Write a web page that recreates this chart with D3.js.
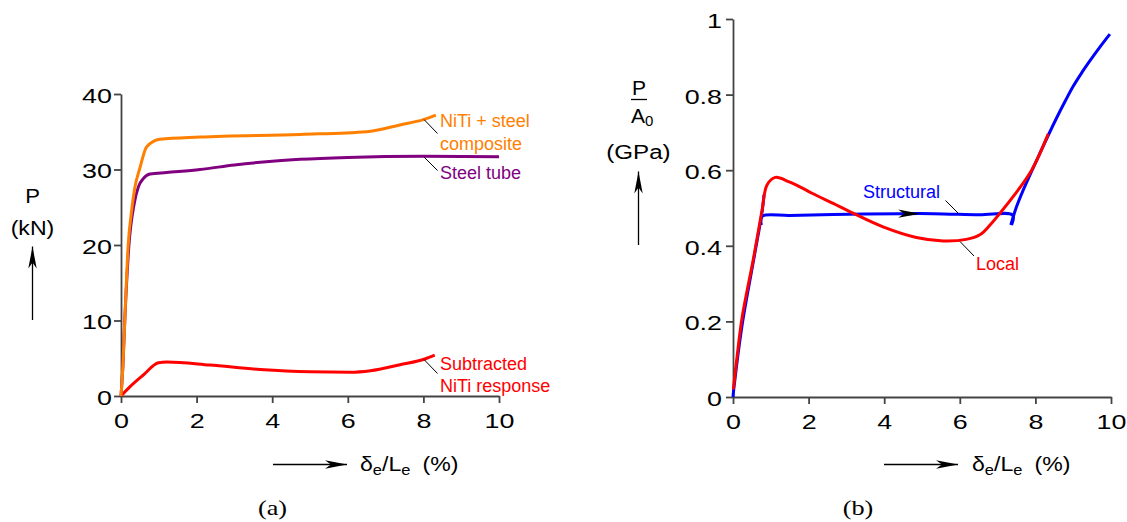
<!DOCTYPE html>
<html>
<head>
<meta charset="utf-8">
<script src="https://cdn.jsdelivr.net/npm/d3@7"></script>
<style>
  body { margin: 0; background: #fff; }
  svg { display: block; font-family: "Liberation Sans", Arial, sans-serif; }
  .axis text { font-size: 21px; fill: #000; }
  .axis path, .axis line { stroke: #444; stroke-width: 1.8; }
  .lbl { font-size: 18px; }
  .ttl { font-size: 21px; }
</style>
</head>
<body>
<svg width="1127" height="522"></svg>
<script>
// x ticks shared by both panels
const xTicks = [0, 2, 4, 6, 8, 10];
const yTicksA = [0, 10, 20, 30, 40];
const yTicksB = [0, 0.2, 0.4, 0.6, 0.8, 1];

// panel (a): P (kN) vs strain (%)
const composite = [[0,0],[0.05,4],[0.1,10],[0.19,20],[0.28,24.5],[0.37,27.7],[0.5,30.2],[0.68,33],[1.03,34],[2.09,34.3],[4.74,34.65],[6.5,35],[7.38,35.9],[8.0,36.6],[8.33,37.2]];
const steelTube = [[0,0],[0.05,4],[0.1,10],[0.21,20],[0.35,25.5],[0.46,27.7],[0.59,28.8],[0.77,29.4],[1.2,29.6],[2.09,30.0],[3,30.6],[4,31.1],[4.74,31.35],[6,31.6],[8,31.75],[10,31.7]];
const subtracted = [[0,0],[0.24,1.24],[0.59,2.78],[0.99,4.4],[1.21,4.5],[2.35,4.1],[3.68,3.5],[5.0,3.2],[6.06,3.15],[6.6,3.35],[7.38,4.15],[8.04,4.9],[8.3,5.4]];

// panel (b): P/A0 (GPa) vs strain (%)
const structRise = [[0,0],[0.02,0.02],[0.24,0.19],[0.55,0.365],[0.77,0.49],[0.82,0.535]];
const structPlateau = [[0.75,0.455],[0.77,0.478],[1.5,0.48],[2.65,0.483],[4.42,0.485],[5.3,0.485],[6.5,0.482],[7.4,0.481],[7.37,0.455]];
const structHarden = [[7.35,0.455],[7.5,0.503],[7.68,0.548],[8.12,0.645],[8.56,0.738],[8.8,0.785],[9.0,0.822],[9.22,0.857],[9.44,0.889],[9.7,0.925],[9.97,0.96]];
const local = [[0.01,0.02],[0.1,0.1],[0.24,0.21],[0.55,0.371],[0.77,0.495],[0.9,0.561],[1.12,0.581],[1.47,0.57],[1.77,0.556],[2.09,0.539],[2.65,0.512],[3.1,0.49],[3.97,0.45],[4.85,0.422],[5.56,0.413],[6.17,0.417],[6.53,0.429],[6.8,0.455],[7.06,0.486],[7.41,0.53],[7.9,0.6],[8.34,0.696]];

const svg = d3.select("svg");

// horizontally stretch a text element around x = ax
function stretch(sel, sx, ax) {
    sel.attr("transform", `translate(${ax},0) scale(${sx},1) translate(${-ax},0)`);
    return sel;
}

// arrow head with notched back, tip at (x,y)
function arrowHead(g, x, y, angle) {
    g.append("path")
        .attr("d", "M0,0 L-22,-4.2 L-16,0 L-22,4.2 Z")
        .attr("transform", `translate(${x},${y}) rotate(${angle})`)
        .attr("fill", "#000");
}

function arrow(g, x1, y1, x2, y2) {
    g.append("line")
        .attr("x1", x1).attr("y1", y1).attr("x2", x2).attr("y2", y2)
        .attr("stroke", "#000").attr("stroke-width", 1.3);
    arrowHead(g, x2, y2, Math.atan2(y2 - y1, x2 - x1) * 180 / Math.PI);
}

function leader(g, x1, y1, x2, y2) {
    g.append("line")
        .attr("x1", x1).attr("y1", y1).attr("x2", x2).attr("y2", y2)
        .attr("stroke", "#000").attr("stroke-width", 1);
}

function xLabel(g, ax, tx) {
    arrow(g, ax, 464.5, ax + 74, 464.5);
    const t = g.append("text").attr("class", "ttl").attr("x", tx).attr("y", 471);
    t.append("tspan").text("\u03b4");
    t.append("tspan").attr("dy", 4).style("font-size", "15px").text("e");
    t.append("tspan").attr("dy", -4).text("/L");
    t.append("tspan").attr("dy", 4).style("font-size", "15px").text("e");
    t.append("tspan").attr("dy", -4).attr("dx", 11).text("(%)");
    stretch(t, 1.1, tx);
}

function drawAxes(g, x, y, yTicks, fmt, pad) {
    const sx = 1.28;
    g.append("g")
        .attr("class", "axis")
        .attr("transform", `translate(0,${y.range()[0]})`)
        .call(d3.axisBottom(x).tickValues(xTicks).tickSize(7).tickSizeOuter(0).tickPadding(10))
        .selectAll("text").attr("transform", `scale(${sx},1)`);
    g.append("g")
        .attr("class", "axis")
        .attr("transform", `translate(${x.range()[0]},0)`)
        .call(d3.axisLeft(y).tickValues(yTicks).tickFormat(fmt).tickSize(7).tickSizeOuter(0))
        .selectAll("text")
        .attr("x", -(7 + pad) / sx)
        .attr("dy", "0.4em")
        .attr("transform", `scale(${sx},1)`);
}

// ---------- panel (a) ----------
const xa = d3.scaleLinear().domain([0, 10]).range([121, 499]);
const ya = d3.scaleLinear().domain([0, 40]).range([396, 94]);
const ga = svg.append("g");
drawAxes(ga, xa, ya, yTicksA, d => d, 2);

const lineA = d3.line().x(d => xa(d[0])).y(d => ya(d[1])).curve(d3.curveMonotoneX);
[[subtracted, "#ff0000"], [steelTube, "#800080"], [composite, "#ff8000"]].forEach(([data, c]) => {
    ga.append("path").datum(data).attr("d", lineA)
        .attr("fill", "none").attr("stroke", c).attr("stroke-width", 3);
});

leader(ga, 424, 119.5, 437.5, 133.5);
leader(ga, 424, 157, 437.5, 170.5);
leader(ga, 424, 359.5, 437.5, 373.5);
ga.append("text").attr("class", "lbl").attr("x", 440).attr("y", 127).attr("fill", "#ff8000").text("NiTi + steel");
ga.append("text").attr("class", "lbl").attr("x", 440).attr("y", 149.5).attr("fill", "#ff8000").text("composite");
ga.append("text").attr("class", "lbl").attr("x", 440).attr("y", 178.5).attr("fill", "#800080").text("Steel tube");
ga.append("text").attr("class", "lbl").attr("x", 440).attr("y", 369.5).attr("fill", "#ff0000").text("Subtracted");
ga.append("text").attr("class", "lbl").attr("x", 440).attr("y", 392).attr("fill", "#ff0000").text("NiTi response");

stretch(ga.append("text").attr("class", "ttl").attr("x", 32.5).attr("y", 203.5).attr("text-anchor", "middle").text("P"), 1.05, 32.5);
stretch(ga.append("text").attr("class", "ttl").attr("x", 32.5).attr("y", 235).attr("text-anchor", "middle").text("(kN)"), 1.1, 32.5);
arrow(ga, 32.5, 320, 32.5, 246.5);
xLabel(ga, 273, 360);
stretch(ga.append("text").attr("x", 272.5).attr("y", 515).attr("text-anchor", "middle")
    .style("font-family", "'Liberation Serif', 'Times New Roman', serif").style("font-size", "21px").text("(a)"), 1.25, 272.5);

// ---------- panel (b) ----------
const xb = d3.scaleLinear().domain([0, 10]).range([733, 1111]);
const yb = d3.scaleLinear().domain([0, 1]).range([397, 19]);
const gb = svg.append("g");
drawAxes(gb, xb, yb, yTicksB, d => String(+d.toFixed(1)), 4);

const lineB = d3.line().x(d => xb(d[0])).y(d => yb(d[1])).curve(d3.curveCatmullRom.alpha(0.5));
[structRise, structPlateau, structHarden].forEach(data => {
    gb.append("path").datum(data).attr("d", lineB)
        .attr("fill", "none").attr("stroke", "#0000ff").attr("stroke-width", 3);
});
gb.append("path").datum(local).attr("d", lineB)
    .attr("fill", "none").attr("stroke", "#ff0000").attr("stroke-width", 3);

// direction arrow on plateau
arrowHead(gb, xb(4.95), yb(0.485), 0);

leader(gb, 945.5, 200.5, 958.5, 213.5);
leader(gb, 960, 241.5, 974, 256);
gb.append("text").attr("class", "lbl").attr("x", 863).attr("y", 198).attr("fill", "#0000ff").text("Structural");
gb.append("text").attr("class", "lbl").attr("x", 976).attr("y", 269.5).attr("fill", "#ff0000").text("Local");

// P / A0 label
gb.append("text").attr("class", "ttl").attr("x", 639).attr("y", 95).attr("text-anchor", "middle").text("P");
gb.append("line").attr("x1", 631).attr("x2", 647).attr("y1", 99.5).attr("y2", 99.5)
    .attr("stroke", "#000").attr("stroke-width", 1.3);
const a0 = gb.append("text").attr("class", "ttl").attr("x", 631).attr("y", 123);
a0.append("tspan").text("A");
a0.append("tspan").attr("dy", 3).style("font-size", "15px").text("0");
stretch(gb.append("text").attr("class", "ttl").attr("x", 638.5).attr("y", 159).attr("text-anchor", "middle").text("(GPa)"), 1.15, 638.5);
arrow(gb, 638.5, 245, 638.5, 171.5);
xLabel(gb, 884, 972);
stretch(gb.append("text").attr("x", 858).attr("y", 515).attr("text-anchor", "middle")
    .style("font-family", "'Liberation Serif', 'Times New Roman', serif").style("font-size", "21px").text("(b)"), 1.25, 858);
</script>
</body>
</html>
